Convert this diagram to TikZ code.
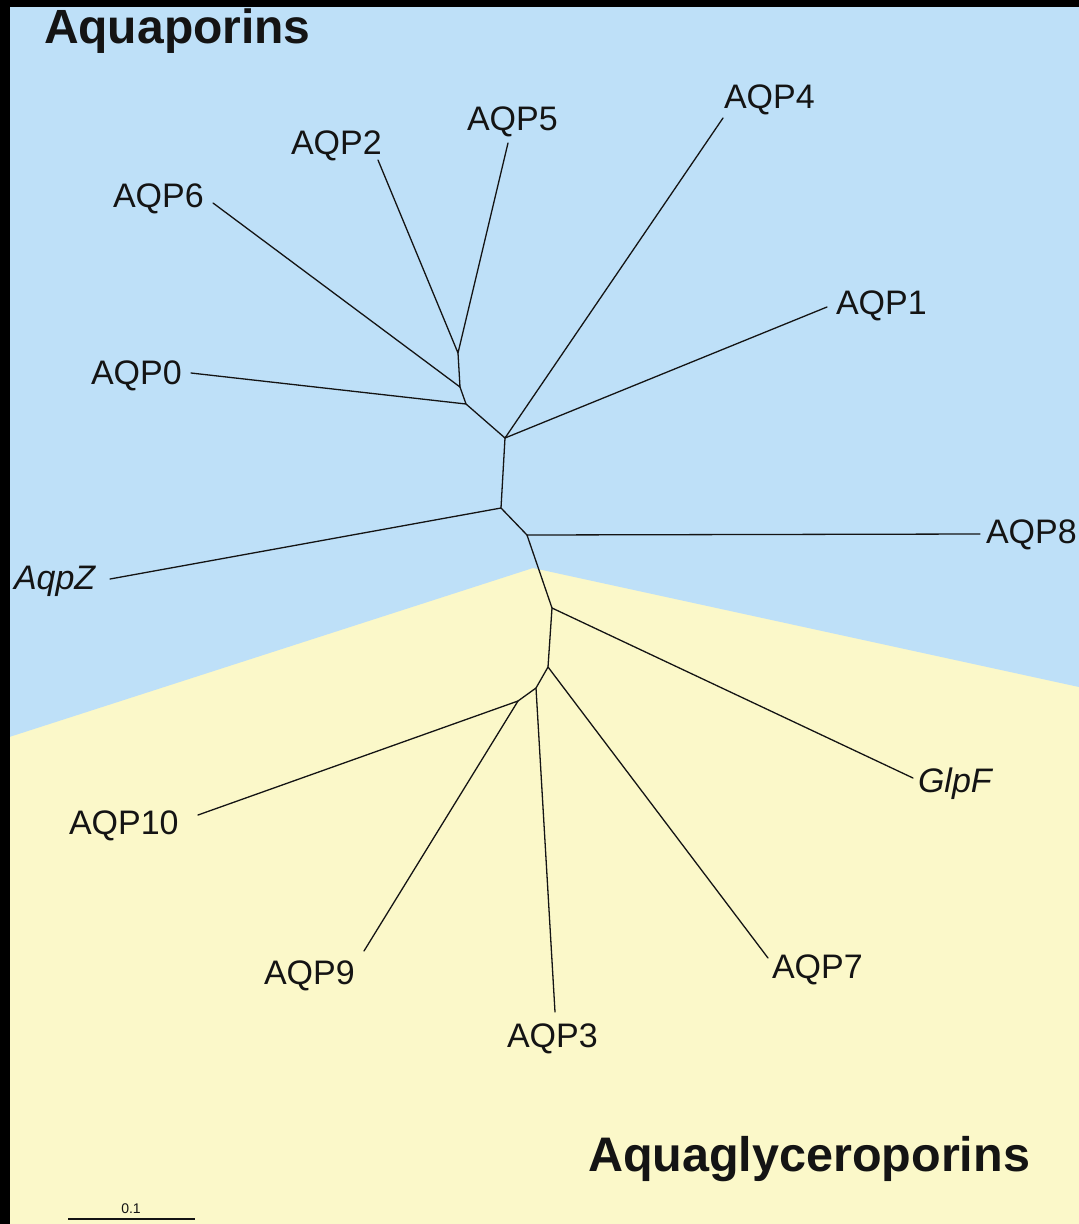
\documentclass[tikz,border=0pt]{standalone}
\usepackage{fontspec}
\setmainfont{Liberation Sans}
\definecolor{bgblue}{RGB}{190,224,248}
\definecolor{bgyellow}{RGB}{251,248,201}
\definecolor{ink}{RGB}{20,20,20}
\begin{document}
\begin{tikzpicture}[x=1pt,y=-1pt,
  branch/.style={draw=ink,line width=1.3pt,line cap=round,line join=round},
  leaf/.style={inner sep=0pt,outer sep=0pt,anchor=base west,text=ink,font=\fontsize{34}{40}\selectfont},
  ileaf/.style={leaf,font=\fontsize{34}{40}\selectfont\itshape},
  title/.style={inner sep=0pt,outer sep=0pt,anchor=base west,text=ink,font=\fontsize{48}{56}\selectfont\bfseries}]
\useasboundingbox (0,0) rectangle (1079,1224);
% backgrounds
\fill[bgyellow] (0,0) rectangle (1079,1224);
\fill[bgblue] (0,0) -- (1079,0) -- (1079,687) -- (533,568) -- (0,740) -- cycle;
\fill[black] (0,0) rectangle (1079,7);
\fill[black] (0,0) rectangle (10,1224);
% titles
\node[title] (t1) at (44,43) {Aquaporins};
\node[title,font=\fontsize{48.5}{56}\selectfont\bfseries] (t2) at (588,1171) {Aquaglyceroporins};
% internal nodes
\coordinate (n1) at (458,353);
\coordinate (n2) at (460,387);
\coordinate (n2b) at (466,404);
\coordinate (n3) at (505,438);
\coordinate (n4) at (501,508);
\coordinate (n5) at (527,535);
\coordinate (n6) at (552,608);
\coordinate (n7) at (548,667);
\coordinate (n8) at (536,688);
\coordinate (n9) at (518,701);
% tips
\coordinate (e2) at (378,160);
\coordinate (e5) at (508,143);
\coordinate (e6) at (213,203);
\coordinate (e0) at (191,373);
\coordinate (e4) at (723,118);
\coordinate (e1) at (827,307);
\coordinate (ez) at (110,579);
\coordinate (e8) at (980,534);
\coordinate (eg) at (913,778);
\coordinate (e7) at (768,958);
\coordinate (e3) at (555,1012);
\coordinate (e9) at (364,951);
\coordinate (e10) at (198,815);
% labels
\node[leaf] (l6) at (113,207) {AQP6};
\node[leaf] (l2) at (291,154) {AQP2};
\node[leaf] (l5) at (467,130) {AQP5};
\node[leaf] (l4) at (724,108) {AQP4};
\node[leaf] (l1) at (836,314) {AQP1};
\node[leaf] (l0) at (91,384) {AQP0};
\node[ileaf] (lz) at (14,589) {AqpZ};
\node[leaf] (l8) at (986,543) {AQP8};
\node[ileaf] (lg) at (918,792) {GlpF};
\node[leaf] (l7) at (772,978) {AQP7};
\node[leaf] (l3) at (507,1047) {AQP3};
\node[leaf] (l9) at (264,984) {AQP9};
\node[leaf] (l10) at (69,834) {AQP10};
% tree
\draw[branch] (e2) -- (n1) -- (e5);
\draw[branch] (n1) -- (n2) -- (e6);
\draw[branch] (n2) -- (n2b) -- (e0);
\draw[branch] (n2b) -- (n3) -- (e4);
\draw[branch] (n3) -- (e1);
\draw[branch] (n3) -- (n4) -- (ez);
\draw[branch] (n4) -- (n5) -- (e8);
\draw[branch] (n5) -- (n6) -- (eg);
\draw[branch] (n6) -- (n7) -- (e7);
\draw[branch] (n7) -- (n8) -- (e3);
\draw[branch] (n8) -- (n9) -- (e9);
\draw[branch] (n9) -- (e10);
% scale bar
\coordinate (sb1) at (68,1219);
\coordinate (sb2) at (195,1219);
\draw[branch,line cap=butt] (sb1) -- (sb2);
\node[inner sep=0pt,anchor=base,text=ink,font=\fontsize{14}{16}\selectfont] (sbl) at (131,1213) {0.1};
\end{tikzpicture}
\end{document}
